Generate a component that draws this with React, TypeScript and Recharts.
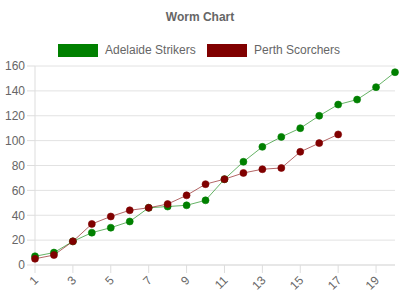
import { LineChart, Line, XAxis, YAxis, CartesianGrid } from 'recharts'

const overs = ['1', '2', '3', '4', '5', '6', '7', '8', '9', '10', '11', '12', '13', '14', '15', '16', '17', '18', '19', '20']
const adelaide = [7, 10, 19, 26, 30, 35, 46, 47, 48, 52, 69, 83, 95, 103, 110, 120, 129, 133, 143, 155]
const perth = [5, 8, 19, 33, 39, 44, 46, 49, 56, 65, 69, 74, 77, 78, 91, 98, 105]
const yTicks = [0, 20, 40, 60, 80, 100, 120, 140, 160]

const series = [
  { name: 'Adelaide Strikers', key: 'adelaide', fill: '#008000', line: 'rgba(0,128,0,0.6)', left: 58 },
  { name: 'Perth Scorchers', key: 'perth', fill: '#800000', line: 'rgba(128,0,0,0.6)', left: 207 },
]

const data = overs.map((o, i) => ({ over: o, adelaide: adelaide[i], perth: perth[i] }))

const FONT = '"Liberation Sans", Arial, sans-serif'

function XTick({ x, y, payload }: any) {
  return (
    <text x={x + 4} y={y + 6} transform={`rotate(-45, ${x + 4}, ${y + 6})`}
      textAnchor="end" fill="#666" fontSize={12} fontFamily={FONT}>
      {payload.value}
    </text>
  )
}

export default function App() {
  return (
    <div style={{ position: 'absolute', left: 0, top: 0, width: 400, height: 300, background: '#fff', fontFamily: FONT }}>
      <div style={{ position: 'absolute', top: 10, width: 400, textAlign: 'center', fontSize: 12, fontWeight: 'bold', color: '#666' }}>
        Worm Chart
      </div>
      {series.map(s => (
        <div key={s.key} style={{ position: 'absolute', top: 43, left: s.left, display: 'flex', alignItems: 'center', fontSize: 12, color: '#666' }}>
          <span style={{ display: 'inline-block', width: 38, height: 11, background: s.fill, border: `1px solid ${s.line}`, marginRight: 7 }} />
          <span>{s.name}</span>
        </div>
      ))}
      <LineChart width={400} height={300} data={data} margin={{ top: 66, right: 5, bottom: 0, left: 8 }}>
        <CartesianGrid vertical={false} stroke="#e2e2e2" />
        <XAxis dataKey="over" scale="point" padding={{ left: 0, right: 0 }} interval={1} height={35}
          stroke="#ddd" tickSize={8} tick={<XTick />} />
        <YAxis domain={[0, 160]} ticks={yTicks} width={27} stroke="#ddd" tickSize={8}
          tick={{ fill: '#666', fontSize: 12, fontFamily: FONT }} />
        {series.map(s => (
          <Line key={s.key} dataKey={s.key} name={s.name} stroke={s.line} strokeWidth={1}
            dot={{ r: 3.5, fill: s.fill, stroke: s.line, strokeWidth: 1 }} activeDot={false}
            isAnimationActive={false} />
        ))}
      </LineChart>
    </div>
  )
}
